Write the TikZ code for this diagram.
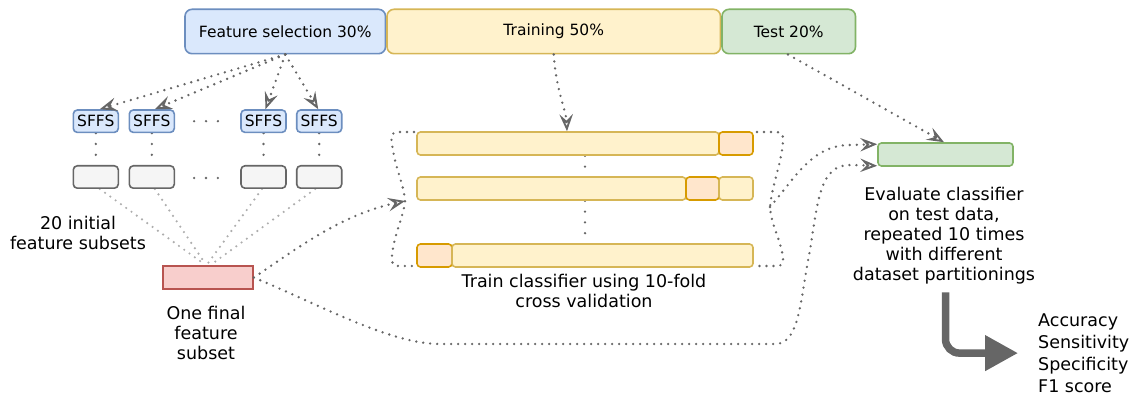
\documentclass[tikz,border=0pt]{standalone}
\usepackage{fontspec}
\setmainfont{DejaVu Sans}
\usetikzlibrary{arrows.meta,calc}
\definecolor{bfill}{HTML}{DAE8FC}\definecolor{bdraw}{HTML}{6C8EBF}
\definecolor{yfill}{HTML}{FFF2CC}\definecolor{ydraw}{HTML}{D6B656}
\definecolor{gfill}{HTML}{D5E8D4}\definecolor{gdraw}{HTML}{82B366}
\definecolor{ofill}{HTML}{FFE6CC}\definecolor{odraw}{HTML}{D79B00}
\definecolor{rfill}{HTML}{F8CECC}\definecolor{rdraw}{HTML}{B85450}
\definecolor{nfill}{HTML}{F5F5F5}\definecolor{ndraw}{HTML}{666666}
\definecolor{cgray}{HTML}{666666}\definecolor{lgray}{HTML}{ADADAD}
\newcommand\boxfont{\fontsize{15.5}{18}\selectfont}
\newcommand\lblfont{\fontsize{17.5}{20}\selectfont}
\pgfdeclarelayer{bg}\pgfsetlayers{bg,main}
\begin{document}
\begin{tikzpicture}[x=1pt,y=-1pt,
  box/.style={draw, line width=1.6pt, inner sep=0pt, font=\boxfont},
  bluebox/.style={box, fill=bfill, draw=bdraw},
  yelbox/.style={box, fill=yfill, draw=ydraw},
  grnbox/.style={box, fill=gfill, draw=gdraw},
  orgbox/.style={box, fill=ofill, draw=odraw},
  redbox/.style={box, fill=rfill, draw=rdraw},
  gryboxx/.style={box, fill=nfill, draw=ndraw},
  big/.style={rounded corners=7pt, minimum height=44.4pt},
  sm/.style={rounded corners=4pt, minimum width=45pt, minimum height=22.4pt},
  fold/.style={rounded corners=3.5pt, minimum height=23pt},
  lbl/.style={align=center, inner sep=0pt, font=\lblfont},
  conn/.style={draw=cgray, line width=2.6pt, line cap=round, dash pattern=on 0pt off 7pt,
     -{Stealth[open,length=17pt,width=13.5pt,inset=6.5pt,line width=1.9pt]}},
  bdots/.style={draw=cgray, line width=2.6pt, line cap=round, dash pattern=on 0pt off 7pt},
  vdots/.style={draw=cgray, line width=2.6pt, line cap=round, dash pattern=on 0pt off 10.8pt},
  hdots/.style={draw=cgray, line width=2.6pt, line cap=round, dash pattern=on 0pt off 11.9pt},
  lite/.style={draw=lgray, line width=2.4pt, line cap=round, dash pattern=on 0pt off 6.5pt}]
\useasboundingbox (0,0) rectangle (1133,398);
% top boxes
\node[bluebox,big,minimum width=200.5pt] (fs) at (285.25,31.5) {Feature selection 30\%};
\node[yelbox,big,minimum width=333.5pt] (tr) at (553.75,31.5) {Training 50\%};
\node[grnbox,big,minimum width=133.5pt] (te) at (788.75,31.5) {Test 20\%};
% SFFS boxes
\node[bluebox,sm] (s1) at (95.8,121.2) {SFFS};
\node[bluebox,sm] (s2) at (151.8,121.2) {SFFS};
\node[bluebox,sm] (s3) at (263.5,121.2) {SFFS};
\node[bluebox,sm] (s4) at (319.2,121.2) {SFFS};
% subset boxes
\node[gryboxx,sm] (g1) at (95.8,177) {};
\node[gryboxx,sm] (g2) at (151.8,177) {};
\node[gryboxx,sm] (g3) at (263.5,177) {};
\node[gryboxx,sm] (g4) at (319.2,177) {};
% final subset
\node[redbox,minimum width=90pt,minimum height=23pt] (r) at (208,277.5) {};
% folds
\node[yelbox,fold,minimum width=302pt] (f1a) at (568,143.5) {};
\node[orgbox,fold,minimum width=34pt] (f1b) at (736,143.5) {};
\node[yelbox,fold,minimum width=269pt] (f2a) at (551.5,188.5) {};
\node[orgbox,fold,minimum width=33pt] (f2b) at (702.5,188.5) {};
\node[yelbox,fold,minimum width=34pt] (f2c) at (736,188.5) {};
\node[orgbox,fold,minimum width=35pt] (f3a) at (434.5,255.5) {};
\node[yelbox,fold,minimum width=301pt] (f3b) at (602.5,255.5) {};
% evaluation box
\node[grnbox,fold,minimum width=135pt] (ev) at (945.5,154.5) {};
% labels
\node[lbl] (initlbl) at (78,233) {20 initial\\feature subsets};
\node[lbl] (finallbl) at (206,332.5) {One final\\feature\\subset};
\node[lbl] (trainlbl) at (584,290.7) {Train classifier using 10-fold\\cross validation};
\node[lbl] (evallbl) at (944,235.7) {Evaluate classifier\\on test data,\\repeated 10 times\\with different\\dataset partitionings};
\node[lbl,align=left,anchor=west,font=\fontsize{17.5}{21.9}\selectfont] (metrics) at (1038,353.1) {Accuracy\\Sensitivity\\Specificity\\F1 score};
% background dotted lines
\begin{pgfonlayer}{bg}
\draw[vdots] (s1.south) -- (g1.north);
\draw[vdots] (s2.south) -- (g2.north);
\draw[vdots] (s3.south) -- (g3.north);
\draw[vdots] (s4.south) -- (g4.north);
\draw[hdots] ([xshift=19pt]s2.east) -- ([xshift=-12pt]s3.west);
\draw[hdots] ([xshift=19pt,yshift=-1pt]g2.east) -- ([xshift=-12pt,yshift=-1pt]g3.west);
\draw[lite] ([xshift=4pt]g1.south) -- ([xshift=-5pt,yshift=2pt]r.north);
\draw[lite] ([xshift=3pt]g2.south) -- ([xshift=-3pt,yshift=2pt]r.north);
\draw[lite] ([xshift=-1.5pt]g3.south) -- ([xshift=0pt,yshift=2pt]r.north);
\draw[lite] ([xshift=-4pt]g4.south) -- ([xshift=5pt,yshift=2pt]r.north);
\draw[vdots] ([xshift=17pt]f1a.south) -- ([xshift=33.5pt]f2a.north);
\draw[vdots] ([xshift=33.5pt]f2a.south) -- ([xshift=-17.5pt]f3b.north);
\end{pgfonlayer}
% arrows from feature selection
\draw[conn] (fs.south) -- ([xshift=4pt]s1.north);
\draw[conn] (fs.south) -- ([xshift=3pt]s2.north);
\draw[conn] (fs.south) -- ([xshift=2pt]s3.north);
\draw[conn] (fs.south) -- ([xshift=-1pt]s4.north);
% training to folds
\draw[conn] (tr.south) .. controls (556,90) and (566,110) .. ([xshift=-1pt]f1a.north);
% test to evaluation
\draw[conn] ([xshift=-0.75pt]te.south) -- ([xshift=-1.5pt]ev.north);
% brackets
\coordinate (lb) at (405,201);
\coordinate (rb) at (770,207);
\draw[bdots] (414,132) -- (396,132) .. controls (390,133) and (391,140) .. (393,150)
  .. controls (396,170) and (404,185) .. (lb)
  .. controls (404,215) and (394,235) .. (392,255)
  .. controls (391,263) and (393,266) .. (398,266) -- (416,266);
\draw[bdots] (757,132) -- (777,132) .. controls (782,132) and (784,136) .. (783,142)
  .. controls (781,165) and (772,185) .. (rb)
  .. controls (771,225) and (781,240) .. (783,258)
  .. controls (784,264) and (781,266) .. (777,266) -- (757,266);
% final subset to cross validation and to evaluation
\draw[conn] (r.east) .. controls (295,250) and (340,215) .. (lb);
\draw[conn] (rb) .. controls (795,178) and (812,145) .. (850,145) -- ([yshift=-2pt]ev.north west);
\draw[conn] (r.east) .. controls (320,305) and (390,344) .. (440,344) -- (775,344)
  .. controls (800,344) and (800,300) .. (810,250)
  .. controls (818,200) and (820,165) .. (850,165) -- ([yshift=1pt]ev.south west);
% big result arrow
\draw[draw=cgray, line width=7.5pt, rounded corners=14pt, -{Triangle[length=33pt,width=34pt]}]
  ([xshift=1.5pt,yshift=-8pt]evallbl.south) |- ([xshift=-20pt]metrics.west);
\end{tikzpicture}
\end{document}
